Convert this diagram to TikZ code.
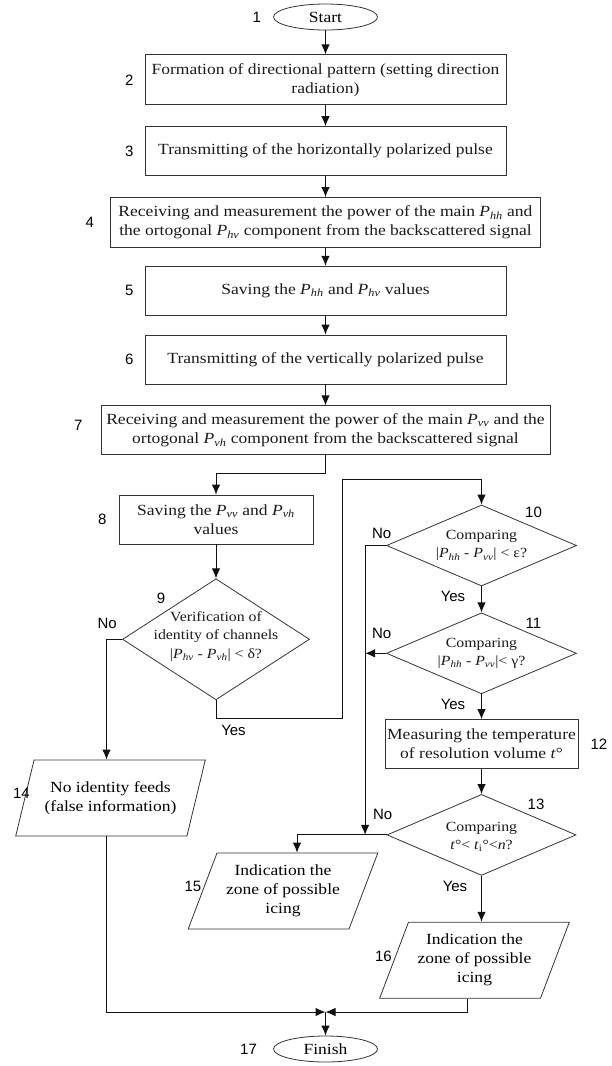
\documentclass[tikz,border=0pt]{standalone}
\usepackage{fontspec}
\setmainfont{Liberation Serif}[FakeStretch=1.13]
\newfontfamily\numfont{Liberation Sans}
\usetikzlibrary{shapes.geometric, arrows.meta, positioning}
\usepackage{xcolor}
\definecolor{cEdge}{HTML}{333333}
\definecolor{cLine}{HTML}{111111}
\definecolor{cText}{HTML}{1A1A1A}
\newcommand{\Pw}[1]{\textit{P}\textsubscript{\textit{#1}}}
\tikzset{
  terminal/.style = {
    ellipse,
    draw=cEdge,
    line width=0.8pt,
    minimum width=104pt,
    minimum height=26pt,
    inner sep=0pt,
    font=\fontsize{15.5}{19}\selectfont
  },
  block/.style = {
    rectangle,
    draw=cEdge,
    line width=0.8pt,
    text=cText,
    minimum width=361pt,
    minimum height=49pt,
    inner sep=2pt,
    align=center,
    font=\fontsize{15.5}{19}\selectfont
  },
  decision/.style = {
    diamond,
    draw=cEdge,
    line width=0.8pt,
    inner sep=0pt,
    minimum width=190pt,
    minimum height=81pt
  },
  dtext/.style = {
    align=center,
    inner sep=0pt,
    text=cText,
    font=\fontsize{14}{18.5}\selectfont
  },
  io/.style = {
    trapezium,
    trapezium left angle=64.5,
    trapezium right angle=115.5,
    trapezium stretches=true,
    draw=cEdge,
    line width=0.8pt,
    minimum width=190pt,
    minimum height=76pt,
    inner sep=0pt,
    align=center,
    font=\fontsize{15.5}{19}\selectfont
  },
  num/.style = {
    inner sep=0pt,
    font=\numfont\fontsize{15}{17}\selectfont
  },
  line/.style = {
    draw,
    line width=1pt,
    color=cLine,
    -{Latex[length=10pt,width=8.5pt]}
  },
}
\begin{document}
\begin{tikzpicture}[x=1pt, y=1pt]
    \useasboundingbox (0,0) rectangle (611,-1066);
    % main column
    \node [terminal] (start) at (325.5,-17) {Start};
    \node [block, minimum height=50pt, below=24pt of start] (b2) {Formation of directional pattern (setting direction\\radiation)};
    \node [block, below=21pt of b2] (b3) {Transmitting of the horizontally polarized pulse};
    \node [block, minimum width=430pt, minimum height=50pt, below=21pt of b3] (b4) {Receiving and measurement the power of the main \Pw{hh} and\\the ortogonal \Pw{hv} component from the backscattered signal};
    \node [block, below=18pt of b4] (b5) {Saving the \Pw{hh} and \Pw{hv} values};
    \node [block, below=19pt of b5] (b6) {Transmitting of the vertically polarized pulse};
    \node [block, minimum width=449pt, below=21pt of b6] (b7) {Receiving and measurement the power of the main \Pw{vv} and the\\ortogonal \Pw{vh} component from the backscattered signal};
    % left branch
    \node [block, minimum width=194pt] (b8) at (216,-519.5) {Saving the \Pw{vv} and \Pw{vh}\\values};
    \node [decision, minimum width=187pt, minimum height=121pt, below=34pt of b8] (c9) {};
    \node [dtext] (t9) at ([yshift=3pt]c9) {Verification of\\identity of channels\\|\Pw{hv} - \Pw{vh}| < δ?};
    \node [io] (io14) at (110.5,-798) {No identity feeds\\(false information)};
    % right branch
    \node [decision] (c10) at (481.5,-545.5) {};
    \node [dtext] (t10) at (c10) {Comparing\\|\Pw{hh} - \Pw{vv}| < ε?};
    \node [decision, below=26pt of c10] (c11) {};
    \node [dtext] (t11) at (c11) {Comparing\\|\Pw{hh} - \Pw{vv}|< γ?};
    \node [block, minimum width=193pt, below=25pt of c11] (b12) {Measuring the temperature\\of resolution volume \textit{t}°};
    \node [decision, minimum width=189pt, below=25pt of b12] (c13) {};
    \node [dtext] (t13) at ([yshift=-2pt]c13) {Comparing\\\textit{t}°< \textit{t}\textsubscript{i}°<\textit{n}?};
    \node [io] (io15) at (283,-891) {Indication the\\zone of possible\\icing};
    \node [io, below=46pt of c13, xshift=-7pt] (io16) {Indication the\\zone of possible\\icing};
    \node [terminal] (finish) at (325.5,-1049) {Finish};
    \coordinate (join) at (325.5,-1012);
    % step numbers
    \node [num, left=12pt of start] (num1) {1};
    \node [num, left=11pt of b2] (num2) {2};
    \node [num, left=11pt of b3] (num3) {3};
    \node [num, left=16pt of b4] (num4) {4};
    \node [num, left=11pt of b5] (num5) {5};
    \node [num, left=11pt of b6] (num6) {6};
    \node [num, left=18pt of b7, yshift=5pt] (num7) {7};
    \node [num, left=12pt of b8] (num8) {8};
    \node [num] (num9) at ([shift={(-55,40.5)}]c9) {9};
    \node [num] (num10) at ([shift={(52,33.5)}]c10) {10};
    \node [num] (num11) at ([shift={(52,29.5)}]c11) {11};
    \node [num, right=12pt of b12] (num12) {12};
    \node [num] (num13) at ([shift={(54.5,30.5)}]c13) {13};
    \node [num] (num14) at ([shift={(-89,5)}]io14) {14};
    \node [num] (num15) at ([shift={(-90,5)}]io15) {15};
    \node [num] (num16) at ([shift={(-91,4)}]io16) {16};
    \node [num, left=16pt of finish] (num17) {17};
    % answers
    \node [num] (no9) at ([shift={(-15,15.5)}]c9.west) {No};
    \node [num] (yes9) at ([shift={(17.5,-30)}]c9.south) {Yes};
    \node [num] (no10) at ([shift={(-4.5,12.5)}]c10.west) {No};
    \node [num] (yes10) at ([shift={(-28.5,-10)}]c10.south) {Yes};
    \node [num] (no11) at ([shift={(-4.5,19.5)}]c11.west) {No};
    \node [num] (yes11) at ([shift={(-28.5,-10)}]c11.south) {Yes};
    \node [num] (no13) at ([shift={(-4,20.5)}]c13.west) {No};
    \node [num] (yes13) at ([shift={(-26.5,-11)}]c13.south) {Yes};
    % connectors
    \path [line] (start) -- (b2);
    \path [line] (b2) -- (b3);
    \path [line] (b3) -- (b4);
    \path [line] (b4) -- (b5);
    \path [line] (b5) -- (b6);
    \path [line] (b6) -- (b7);
    \path [line] (b7.south) -- ++(0,-18pt) -| (b8.north);
    \path [line] (b8) -- (c9);
    \path [line] (c9.west) -| ([xshift=-4pt]io14.north);
    \path [line] (c9.south) -- ++(0,-18pt) -| (342.5,-479) -| (c10.north);
    \path [line] (c10) -- (c11);
    \path [line] (c11) -- (b12);
    \path [line] (b12) -- (c13);
    \path [line] (c13.south) -- (c13.south |- io16.north);
    \path [line] (c10.west) -- ++(-21pt,0) coordinate (bus) -- (bus |- c13.west);
    \path [line] (c11.west) -- (bus |- c11.west);
    \path [line] (c13.west) -| ([xshift=14pt]io15.north);
    \path [line] ([xshift=-4pt]io14.south) |- (join);
    \path [line] ([xshift=-7pt]io16.south) |- (join);
    \path [line] (join) -- (finish);
\end{tikzpicture}
\end{document}
